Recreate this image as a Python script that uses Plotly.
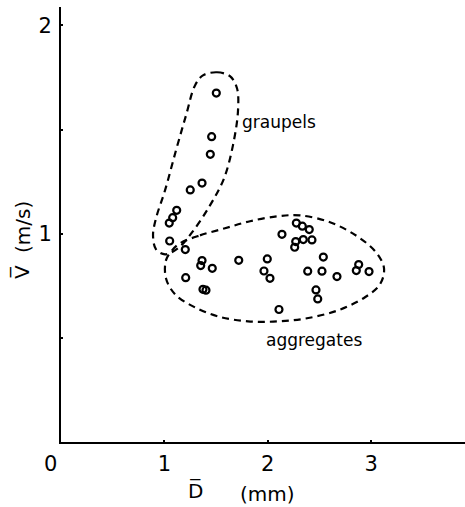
import plotly.graph_objects as go

# Graupel data points (D mm, V m/s)
graupel_d = [1.502, 1.457, 1.444, 1.364, 1.250, 1.119, 1.080, 1.047, 1.051]
graupel_v = [1.675, 1.466, 1.381, 1.243, 1.210, 1.112, 1.077, 1.051, 0.965]

# Aggregate data points
agg_d = [1.202, 1.364, 1.351, 1.463, 1.719, 1.206, 1.373, 1.402, 1.995, 1.963,
         2.021, 2.137, 2.276, 2.334, 2.401, 2.343, 2.270, 2.260, 2.427, 2.537,
         2.386, 2.524, 2.669, 2.466, 2.483, 2.108, 2.879, 2.856, 2.979]
agg_v = [0.924, 0.871, 0.847, 0.834, 0.872, 0.789, 0.733, 0.729, 0.879, 0.821,
         0.786, 0.997, 1.051, 1.036, 1.020, 0.972, 0.962, 0.935, 0.970, 0.888,
         0.820, 0.820, 0.794, 0.730, 0.687, 0.636, 0.852, 0.823, 0.818]

# Hand-drawn envelopes (data units)
graupel_env_d = [1.373, 1.509, 1.634, 1.702, 1.712, 1.663, 1.576, 1.441, 1.267, 1.132,
                 1.006, 0.919, 0.890, 0.919, 1.006, 1.112, 1.209, 1.296, 1.373]
graupel_env_v = [1.760, 1.775, 1.756, 1.698, 1.592, 1.424, 1.265, 1.136, 1.006, 0.930,
                 0.901, 0.925, 0.992, 1.074, 1.208, 1.400, 1.568, 1.712, 1.760]

agg_env_d = [1.151, 1.344, 1.586, 1.828, 2.099, 2.311, 2.602, 2.863, 3.046, 3.124,
             3.085, 2.940, 2.679, 2.379, 2.099, 1.809, 1.518, 1.277, 1.103, 1.015,
             1.015, 1.074, 1.151]
agg_env_v = [0.954, 0.992, 1.026, 1.060, 1.084, 1.088, 1.055, 0.988, 0.911, 0.834,
             0.757, 0.695, 0.632, 0.594, 0.579, 0.579, 0.603, 0.651, 0.709, 0.786,
             0.872, 0.920, 0.954]

x_ticks = [1, 2, 3]
y_ticks = [0.5, 1, 1.5, 2]
y_ticktext = ["", "1", "", "2"]

FONT = "DejaVu Sans"
PX_PER_X = 103.4
PX_PER_Y = 208.3

fig = go.Figure()
for ed, ev in [(graupel_env_d, graupel_env_v), (agg_env_d, agg_env_v)]:
    fig.add_trace(go.Scatter(x=ed, y=ev, mode="lines",
                             line=dict(color="black", width=2.2, dash="7px,5px", shape="spline", smoothing=1.0),
                             hoverinfo="skip", showlegend=False))
for xd, yd in [(graupel_d, graupel_v), (agg_d, agg_v)]:
    fig.add_trace(go.Scatter(x=xd, y=yd, mode="markers",
                             marker=dict(symbol="circle-open", size=7, color="black",
                                         line=dict(color="black", width=2.2)),
                             showlegend=False))

fig.update_xaxes(range=[0, 404 / PX_PER_X], showgrid=False, zeroline=False, showline=True,
                 linecolor="black", linewidth=2, tickvals=x_ticks,
                 ticks="inside", ticklen=2, tickwidth=1.5, tickcolor="black",
                 ticklabelstandoff=2,
                 tickfont=dict(family=FONT, size=21, color="black"))
fig.update_yaxes(range=[0, 435 / PX_PER_Y], showgrid=False, zeroline=False, showline=True,
                 linecolor="black", linewidth=2, tickvals=y_ticks, ticktext=y_ticktext,
                 ticks="inside", ticklen=2, tickwidth=1.5, tickcolor="black",
                 ticklabelstandoff=3,
                 tickfont=dict(family=FONT, size=21, color="black"))

annots = [
    dict(x=0, y=0, text="0", xanchor="center", yanchor="middle", xshift=-11, yshift=-22,
         font=dict(family=FONT, size=21, color="black")),
    dict(x=1.735, y=1.536, text="graupels", xanchor="left", yanchor="middle",
         font=dict(family=FONT, size=17, color="black")),
    dict(x=1.965, y=0.488, text="aggregates", xanchor="left", yanchor="middle",
         font=dict(family=FONT, size=17, color="black")),
]
for a in annots:
    a.update(xref="x", yref="y", showarrow=False)
    fig.add_annotation(**a)

title_font = dict(family=FONT, size=20, color="black")
# x title pieces
fig.add_annotation(xref="paper", yref="paper", x=(195 - 61) / 404, y=-(491 - 442) / 435,
                   text="D\u0305", showarrow=False, xanchor="center", yanchor="middle", font=title_font)
fig.add_annotation(xref="paper", yref="paper", x=(267 - 61) / 404, y=-(494 - 442) / 435,
                   text="(mm)", showarrow=False, xanchor="center", yanchor="middle", font=title_font)
# y title pieces
fig.add_annotation(xref="paper", yref="paper", x=-(61 - 21) / 404, y=(442 - 272) / 435,
                   text="V\u0305", showarrow=False, xanchor="center", yanchor="middle",
                   textangle=-90, font=title_font)
fig.add_annotation(xref="paper", yref="paper", x=-(61 - 23) / 404, y=(442 - 227) / 435,
                   text="(m/s)", showarrow=False, xanchor="center", yanchor="middle",
                   textangle=-90, font=title_font)

fig.update_layout(width=465, height=507, margin=dict(l=61, r=0, t=7, b=65),
                  plot_bgcolor="white", paper_bgcolor="white")
fig.write_html("out.html")
